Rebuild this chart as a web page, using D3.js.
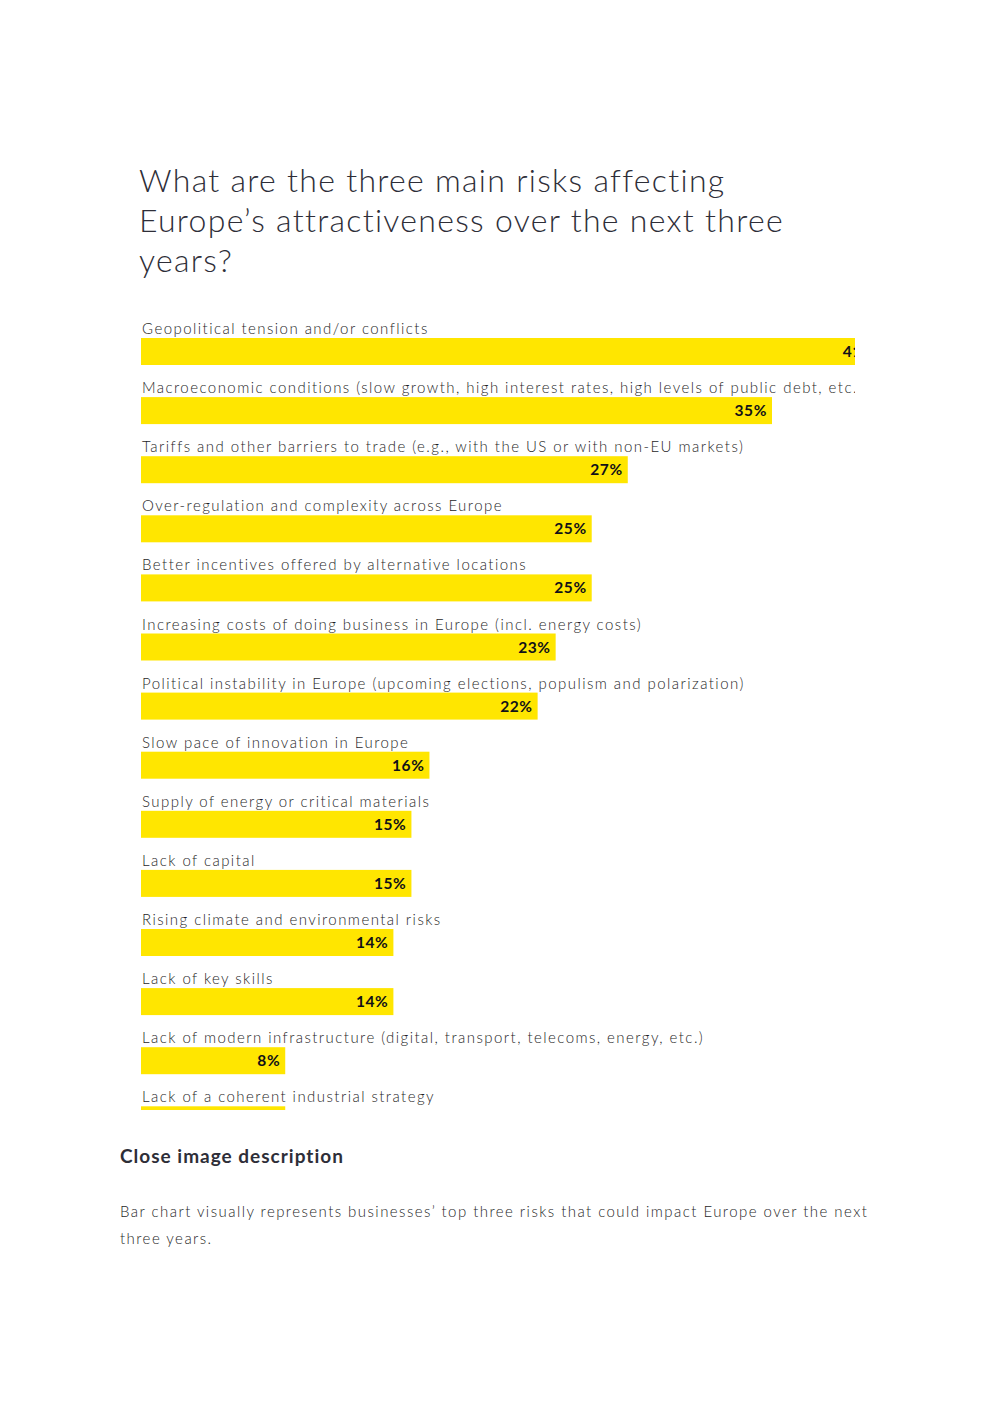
<!DOCTYPE html>
<html>
<head>
<meta charset="utf-8">
<script src="https://cdn.jsdelivr.net/npm/d3@7"></script>
<style>
  body { margin: 0; background: #fff; font-family: "Lato", "Noto Sans", sans-serif; color: #2e2e38; }
  #page { position: relative; width: 992px; height: 1403px; }
  h2 { position: absolute; left: 139px; top: 160px; width: 680px; margin: 0; font-weight: 300;
       font-size: 32px; line-height: 40px; letter-spacing: 1.3px; color: #2e2e38; }
  #chart { position: absolute; left: 141px; top: 310px; }
  h3 { position: absolute; left: 120px; top: 1144px; margin: 0; font-size: 19px; font-weight: 700;
       letter-spacing: 1px; color: #2e2e38; }
  p  { position: absolute; left: 120px; top: 1198px; width: 780px; margin: 0; font-size: 15px; line-height: 27px;
       letter-spacing: 1.45px; font-weight: 300; color: #1f1f28; }
</style>
</head>
<body>
<div id="page">
  <h2>What are the three main risks affecting Europe’s attractiveness over the next three years?</h2>
  <div id="chart"></div>
  <h3>Close image description</h3>
  <p>Bar chart visually represents businesses’ top three risks that could impact Europe over the next three years.</p>
</div>
<script>
// risks, in the order shown
var risks = [
  "Geopolitical tension and/or conflicts",
  "Macroeconomic conditions (slow growth, high interest rates, high levels of public debt, etc.)",
  "Tariffs and other barriers to trade (e.g., with the US or with non-EU markets)",
  "Over-regulation and complexity across Europe",
  "Better incentives offered by alternative locations",
  "Increasing costs of doing business in Europe (incl. energy costs)",
  "Political instability in Europe (upcoming elections, populism and polarization)",
  "Slow pace of innovation in Europe",
  "Supply of energy or critical materials",
  "Lack of capital",
  "Rising climate and environmental risks",
  "Lack of key skills",
  "Lack of modern infrastructure (digital, transport, telecoms, energy, etc.)",
  "Lack of a coherent industrial strategy"
];
// share of respondents, %
var shares = [41, 35, 27, 25, 25, 23, 22, 16, 15, 15, 14, 14, 8, 8];

var width = 714, height = 800;   // box is cut off on the right and bottom like the source
var rowStep = 59.1, barH = 27, barTop = 28;

var svg = d3.select("#chart").append("svg")
  .attr("width", width)
  .attr("height", height)
  .style("display", "block")
  .style("overflow", "hidden");

// 35% spans ~631px
var x = d3.scaleLinear().domain([0, 35]).range([0, 631]);
var y = d3.scaleBand().domain(risks).range([0, risks.length * rowStep]).paddingInner(0);

var rows = svg.selectAll("g.row")
  .data(risks)
  .enter().append("g")
  .attr("class", "row")
  .attr("transform", function(d) { return "translate(0," + y(d) + ")"; });

rows.append("text")
  .attr("x", 1)
  .attr("y", barTop - 4)
  .style("font-family", "Lato, 'Noto Sans', sans-serif")
  .style("font-size", "15px")
  .style("font-weight", 300)
  .style("letter-spacing", "1.45px")
  .style("fill", "#1f1f28")
  .text(function(d) { return d; });

rows.append("rect")
  .attr("x", 0)
  .attr("y", barTop)
  .attr("height", barH)
  .attr("width", function(d, i) { return x(shares[i]); })
  .style("fill", "#ffe600");

rows.append("text")
  .attr("x", function(d, i) { return x(shares[i]) - 5; })
  .attr("y", barTop + barH / 2)
  .attr("dy", "0.36em")
  .attr("text-anchor", "end")
  .style("font-family", "Lato, 'Noto Sans', sans-serif")
  .style("font-size", "15.5px")
  .style("font-weight", 700)
  .style("letter-spacing", "0.6px")
  .style("fill", "#111118")
  .text(function(d, i) { return shares[i] + "%"; });
</script>
</body>
</html>
